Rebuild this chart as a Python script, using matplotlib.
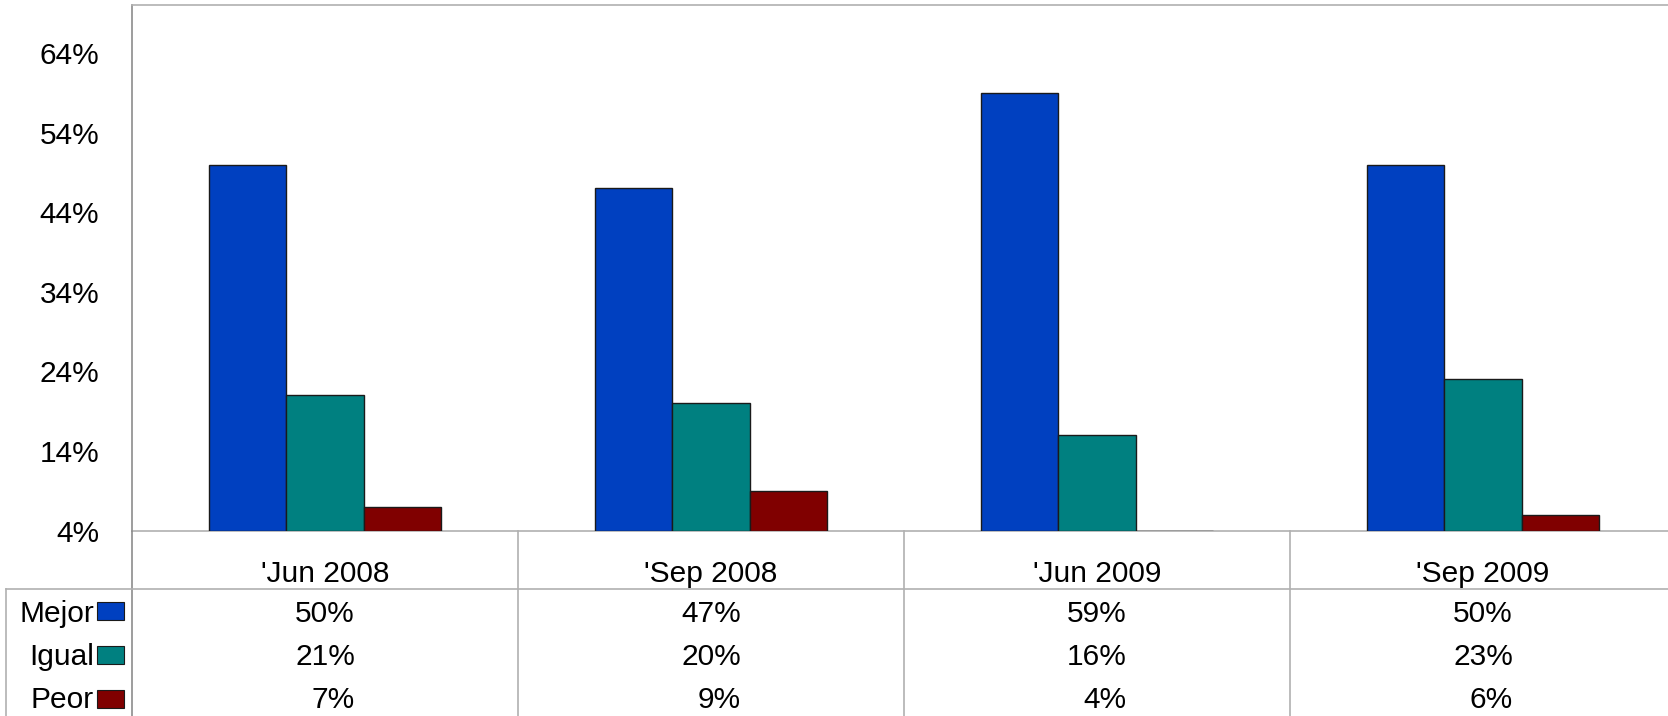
import matplotlib
matplotlib.use('Agg')
import numpy as np
import matplotlib.pyplot as plt
from matplotlib.transforms import blended_transform_factory
from matplotlib.patches import Rectangle

categories = ["'Jun 2008", "'Sep 2008", "'Jun 2009", "'Sep 2009"]
series_names = ["Mejor", "Igual", "Peor"]
mejor = [50, 47, 59, 50]
igual = [21, 20, 16, 23]
peor = [7, 9, 4, 6]
yticks = [4, 14, 24, 34, 44, 54, 64]
colors = ['#0040C0', '#008080', '#800000']

plt.rcParams['font.family'] = ['Liberation Sans', 'DejaVu Sans']
FS = 21.5

W, H = 1668, 716
fig = plt.figure(figsize=(W / 100, H / 100), dpi=100)
fig.patch.set_facecolor('white')

ax_top, ax_bot = 5.3, 530.7
ax = fig.add_axes([132 / W, (H - ax_bot) / H, 1544 / W, (ax_bot - ax_top) / H])
ov = fig.add_axes([0, 0, 1, 1], zorder=5)
ov.set_xlim(0, W)
ov.set_ylim(H, 0)
ov.axis('off')
ov.patch.set_alpha(0)

series = [mejor, igual, peor]
x = np.arange(len(categories)) + 0.5
bw = 0.2
for k, (vals, c) in enumerate(zip(series, colors)):
    vals = np.array(vals, dtype=float)
    ax.bar(x + (k - 1) * bw, vals - yticks[0], bottom=yticks[0], width=bw,
           color=c, edgecolor='#1a1a1a', linewidth=1.0, zorder=3)

ax.set_xlim(0, len(categories))
ax.set_ylim(4, 70)
ax.set_yticks(yticks)
ax.set_yticklabels([f'{v}%' for v in yticks], fontsize=FS)
ax.tick_params(axis='y', length=0, pad=23.5)
ax.set_xticks([])
for s in ['top', 'bottom']:
    ax.spines[s].set_color('#b0b0b0')
    ax.spines[s].set_linewidth(1.2)
ax.spines['left'].set_color('#8c8c8c')
ax.spines['left'].set_linewidth(1.2)
ax.spines['right'].set_visible(False)

trans = blended_transform_factory(ax.transData, ov.transData)
gray = '#b0b0b0'
# table grid
for b in range(1, len(categories)):
    ov.plot([b, b], [ax_bot, H], color=gray, lw=1.2, transform=trans)
ov.plot([132, 132], [ax_bot, H], color='#8c8c8c', lw=1.2)
ov.plot([6, W], [589, 589], color=gray, lw=1.2)
ov.plot([6, 6], [589, H], color=gray, lw=1.2)

# header row
for i, cat in enumerate(categories):
    ov.text(i + 0.5, 582, cat, transform=trans, ha='center', va='baseline', fontsize=FS)

# value rows
baselines = [621.5, 665, 708.5]
rect_tops = [602, 646, 690]
dx = 30 / 386
for k, (name, vals, c) in enumerate(zip(series_names, series, colors)):
    for i, v in enumerate(vals):
        ov.text(i + 0.5 + dx, baselines[k], f'{v}%', transform=trans,
                ha='right', va='baseline', fontsize=FS)
    ov.text(94, baselines[k], name, ha='right', va='baseline', fontsize=FS)
    ov.add_patch(Rectangle((97, rect_tops[k]), 27, 18, facecolor=c,
                           edgecolor='#1a1a1a', linewidth=0.8))

fig.savefig('out.png', dpi=100)
